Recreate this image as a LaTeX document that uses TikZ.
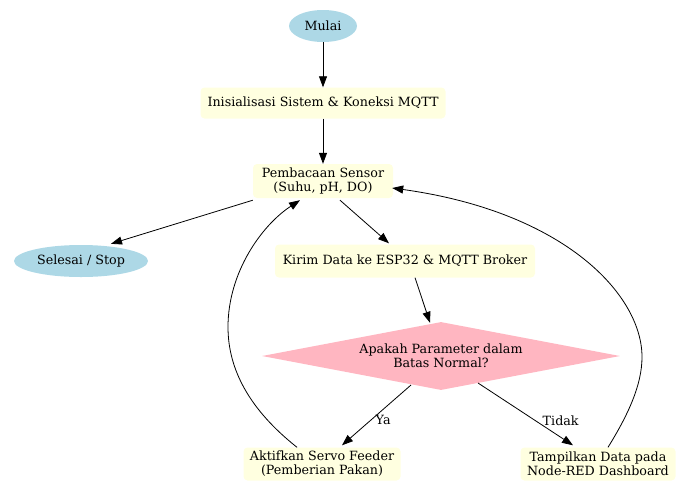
\documentclass[tikz,border=0pt]{standalone}
\usepackage{fontspec}
\setmainfont{DejaVu Serif}
\usetikzlibrary{arrows.meta,shapes.geometric,calc}
\definecolor{lblue}{HTML}{ADD8E6}
\definecolor{lyellow}{HTML}{FFFFE0}
\definecolor{lpink}{HTML}{FFB6C1}
\begin{document}
\begin{tikzpicture}[x=1pt,y=-1pt,
  every node/.style={font=\fontsize{12.7}{14}\selectfont, align=center},
  term/.style={ellipse, fill=lblue, inner sep=0pt},
  proc/.style={rectangle, rounded corners=4pt, fill=lyellow, inner sep=0pt},
  dec/.style={diamond, fill=lpink, inner sep=0pt, aspect=5.2},
  arr/.style={-{Triangle[length=11pt,width=8pt]}, line width=0.8pt},
  lbl/.style={font=\fontsize{12.7}{14}\selectfont}]
\useasboundingbox (0,0) rectangle (682,480);
\node[term, minimum width=68pt, minimum height=32pt] (start) at (323,26) {Mulai};
\node[proc, minimum width=245pt, minimum height=31pt] (init) at (323,103) {Inisialisasi Sistem \& Koneksi MQTT};
\node[proc, minimum width=140pt, minimum height=34pt] (read) at (323,181) {Pembacaan Sensor\\(Suhu, pH, DO)};
\node[term, minimum width=134pt, minimum height=32pt] (stop) at (81,261) {Selesai / Stop};
\node[proc, minimum width=260pt, minimum height=33pt] (send) at (405,261) {Kirim Data ke ESP32 \& MQTT Broker};
\node[dec, minimum width=358pt, minimum height=68pt] (check) at (441,356) {Apakah Parameter dalam\\Batas Normal?};
\node[proc, minimum width=157pt, minimum height=33pt] (feed) at (322,464) {Aktifkan Servo Feeder\\(Pemberian Pakan)};
\node[proc, minimum width=155pt, minimum height=33pt] (show) at (598,464) {Tampilkan Data pada\\Node-RED Dashboard};

\draw[arr] (start) -- (init);
\draw[arr] (init) -- (read);
\draw[arr] ($(read.south west)+(0,2)$) -- ($(stop.north)+(30,-1)$);
\draw[arr] ($(read.south)+(17,2)$) -- ($(send.north)+(-16,-1)$);
\draw[arr] ($(send.south)+(10,0)$) -- ($(check.north)+(-11,1)$);
\draw[arr] ($(check.center)+(-30,29)$) -- node[lbl, pos=0.58, right=1pt] {Ya} ($(feed.north)+(20,-2)$);
\draw[arr] ($(check.center)+(37,27)$) -- node[lbl, pos=0.6, right=4pt] {Tidak} ($(show.north)+(-25,-2)$);
\coordinate (lc) at (228,327);
\draw[arr] ($(feed.north)+(-25,0)$) .. controls (250,410) and (228,370) .. (lc) .. controls (228,272) and (262,225) .. ($(read.south)+(-23,2)$);
\coordinate (rc) at (642,357);
\draw[arr] ($(show.north)+(10,0)$) .. controls (628,415) and (642,385) .. (rc) .. controls (642,295) and (565,212) .. ($(read.east)+(-1,7)$);
\end{tikzpicture}
\end{document}
